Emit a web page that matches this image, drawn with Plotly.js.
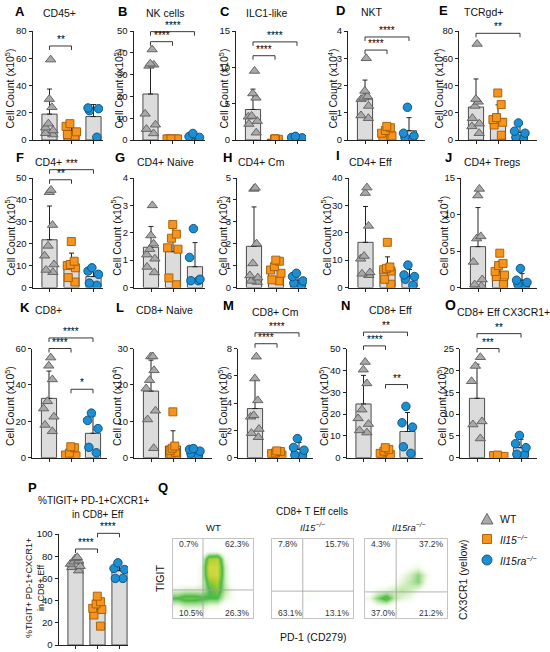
<!DOCTYPE html>
<html><head><meta charset="utf-8">
<script src="https://cdn.plot.ly/plotly-3.0.1.min.js"></script>
<style>html,body{margin:0;padding:0;background:#fff}#chart{width:550px;height:652px}</style>
</head><body><div id="chart"></div>
<script>
// ================= DATA =================
const groups = ['WT', 'Il15-/-', 'Il15ra-/-'];
// A CD45+
const cd45_wt = [59, 30, 24, 12, 9, 7, 5, 4];
const cd45_il15 = [12, 10, 6, 4, 3];
const cd45_il15ra = [23.5, 23, 21.5, 2];
const cd45_mean = [19, 6.8, 17.2];
const cd45_sd = [18.4, 6.7, 8.8];
// B NK cells
const nk_wt = [41.5, 35, 34.5, 34, 12, 7, 5, 3];
const nk_il15 = [0.5, 0.5, 0.5, 0.5, 0.5];
const nk_il15ra = [3, 1.6, 1.2, 0.9, 0.5];
const nk_mean = [21.1, 0.5, 1.5];
const nk_sd = [12.9, 0.2, 1.2];
// C ILC1-like
const ilc1_wt = [9.5, 6.4, 5.8, 3.3, 3.2, 2.6, 2.2, 1.0];
const ilc1_il15 = [0.15, 0.1, 0.1, 0.1, 0.1, 0.1, 0.1];
const ilc1_il15ra = [0.5, 0.35, 0.3, 0.2, 0.1];
const ilc1_mean = [4.2, 0.1, 0.3];
const ilc1_sd = [2.8, 0.05, 0.15];
// D NKT
const nkt_wt = [3.0, 1.8, 1.6, 1.55, 1.5, 1.25, 0.9, 0.8];
const nkt_il15 = [0.5, 0.45, 0.35, 0.25, 0.15, 0.1, 0.05];
const nkt_il15ra = [1.2, 0.25, 0.15, 0.1, 0.05];
const nkt_mean = [1.5, 0.3, 0.34];
const nkt_sd = [0.7, 0.2, 0.48];
// E TCRgd+
const gd_wt = [70.5, 30, 28, 25, 16, 12, 10, 5];
const gd_il15 = [34.5, 26, 16.5, 15, 13, 11, 3.5];
const gd_il15ra = [12.5, 6.5, 5, 2, 1.5];
const gd_mean = [24.2, 15.8, 5.6];
const gd_sd = [20.6, 10, 6];
// F CD4+
const cd4_wt = [44.5, 43.5, 28.5, 19, 14.5, 10.5, 8, 7];
const cd4_il15 = [21, 12, 10.5, 10, 9, 4.5, 2.5];
const cd4_il15ra = [9, 7.5, 6, 2, 1];
const cd4_mean = [21.8, 10.3, 5];
const cd4_sd = [15.4, 5.4, 3.8];
// G CD4+ Naive
const cd4n_wt = [3.0, 1.9, 1.6, 1.4, 1.2, 1.05, 0.75, 0.55];
const cd4n_il15 = [2.3, 1.95, 1.8, 1.45, 1.4, 0.35, 0.1];
const cd4n_il15ra = [2.15, 1.1, 0.3, 0.25, 0.25];
const cd4n_mean = [1.47, 1.31, 0.76];
const cd4n_sd = [0.76, 0.86, 0.88];
// H CD4+ Cm
const cd4cm_wt = [4.55, 4.5, 2.0, 1.1, 0.55, 0.45, 0.3, 0.25];
const cd4cm_il15 = [1.25, 1.2, 0.95, 0.8, 0.65, 0.35, 0.3];
const cd4cm_il15ra = [0.65, 0.5, 0.3, 0.2, 0.1];
const cd4cm_mean = [1.88, 0.79, 0.33];
const cd4cm_sd = [1.8, 0.4, 0.3];
// I CD4+ Eff
const cd4e_wt = [36.5, 34.5, 22.5, 11.5, 10.5, 5.5, 5, 4.5];
const cd4e_il15 = [16.5, 7.5, 7, 6.5, 6, 3, 1.2];
const cd4e_il15ra = [8.2, 4.6, 4, 3, 0.8];
const cd4e_mean = [16.5, 6.7, 4];
const cd4e_sd = [13.1, 4.5, 2.6];
// J CD4+ Tregs
const treg_wt = [13.5, 12.6, 7.0, 6.7, 3.5, 1.1, 0.4, 0.2];
const treg_il15 = [4.7, 3.3, 3.0, 2.2, 1.7, 1.5, 0.4];
const treg_il15ra = [2.6, 1.0, 0.7, 0.5, 0.3];
const treg_mean = [5.6, 2.2, 1.0];
const treg_sd = [5.35, 1.4, 0.9];
// K CD8+
const cd8_wt = [55, 50.5, 43, 31, 27, 22.5, 18, 14.5];
const cd8_il15 = [6, 5.5, 2.5, 1.5, 1, 0.8, 0.5];
const cd8_il15ra = [24.5, 20.5, 16, 5.7, 2.7];
const cd8_mean = [32.6, 2.2, 13.4];
const cd8_sd = [15, 2.3, 9.5];
// L CD8+ Naive
const cd8n_wt = [27.8, 27.8, 24, 21.3, 19, 12.9, 10.5, 2.6];
const cd8n_il15 = [12.6, 3.2, 2.6, 2.0, 1.5, 1.0, 0.5];
const cd8n_il15ra = [2.5, 2.3, 1.8, 1.2, 0.8];
const cd8n_mean = [18.3, 3.2, 1.7];
const cd8n_sd = [8.5, 4.2, 0.7];
// M CD8+ Cm
const cd8cm_wt = [7.4, 5.8, 4.2, 3.1, 3.0, 2.1, 1.8, 1.5];
const cd8cm_il15 = [0.5, 0.45, 0.35, 0.3, 0.2, 0.15, 0.1];
const cd8cm_il15ra = [1.4, 0.75, 0.55, 0.2, 0.15];
const cd8cm_mean = [3.6, 0.28, 0.61];
const cd8cm_sd = [2.1, 0.15, 0.5];
// N CD8+ Eff
const cd8e_wt = [43.8, 40.3, 34, 22, 18, 15.4, 12.5, 11.5];
const cd8e_il15 = [4.6, 3.8, 3.0, 2.0, 1.5, 1.0, 0.6];
const cd8e_il15ra = [23.5, 16, 14, 5, 2];
const cd8e_mean = [24.6, 2.3, 12];
const cd8e_sd = [13.1, 1.5, 8.7];
// O CD8+ Eff CX3CR1+
const cx3_wt = [23, 21, 17.5, 8.3, 7.6, 4.4];
const cx3_il15 = [0.6, 0.5, 0.3, 0.2, 0.1];
const cx3_il15ra = [5.1, 3.2, 2.3, 0.8, 0.7];
const cx3_mean = [13.6, 0.3, 2.3];
const cx3_sd = [7.8, 0.2, 1.9];
// P %TIGIT+PD-1+CXCR1+ in CD8+ Eff
const tig_wt = [79, 78, 76, 75, 73, 71, 70, 67];
const tig_il15 = [44, 39, 37, 33, 32, 27, 17];
const tig_il15ra = [74, 69, 68, 60, 60];
const tig_mean = [74, 32, 67];
const tig_sd = [4, 8.5, 6];
// Q flow plots: coarse density grids (rows bottom->top, 10x10), 0 empty .. 4 yellow(CX3CR1 high)
const flowWT = [
 [0,0,0,0,0,0,0,0,0,0],
 [0.6,1,1,1,0.6,0.6,0,0,0,0],
 [2,2.4,2.4,2.2,2,2,0.8,0.4,0,0],
 [0.8,1,1,1,2,2.6,1.2,0.4,0,0],
 [0,0,0,0.6,2.6,3,1,0,0,0],
 [0,0,0,0.6,3.4,3.6,1,0,0,0],
 [0,0,0,0.6,3.6,3.6,1,0,0,0],
 [0,0,0,0.4,3.0,3.2,0.6,0,0,0],
 [0,0,0,0,0.4,0.4,0,0,0,0],
 [0,0,0,0,0,0,0,0,0,0]];
const flowIl15 = [
 [0,0,0,0,0,0,0,0,0,0],
 [0,0,0,0,0,0,0,0,0,0],
 [0,0,0,0.3,0.4,0.3,0,0,0,0],
 [0,0,0,0,0.3,0.3,0,0,0,0],
 [0,0,0,0,0,0,0,0,0,0],
 [0,0,0,0,0,0,0,0,0,0],
 [0,0,0,0,0,0,0,0,0,0],
 [0,0,0,0,0,0,0,0,0,0],
 [0,0,0,0,0,0,0,0,0,0],
 [0,0,0,0,0,0,0,0,0,0]];
const flowIl15ra = [
 [0,0,0,0,0,0,0,0,0,0],
 [0,0.4,0.4,0,0,0,0,0,0,0],
 [0.6,1.6,2.4,1.2,0.8,0.6,0,0,0,0],
 [0,0.6,0.8,1,1.2,1,0.6,0,0,0],
 [0,0,0,0.4,0.8,1.2,1.6,0.4,0,0],
 [0,0,0,0,0.6,1,1.6,0.6,0,0],
 [0,0,0,0,0,0.4,0.6,0,0,0],
 [0,0,0,0,0,0,0,0,0,0],
 [0,0,0,0,0,0,0,0,0,0],
 [0,0,0,0,0,0,0,0,0,0]];
const flowCells = [0.05,0.15,0.25,0.35,0.45,0.55,0.65,0.75,0.85,0.95];
const pctWT = ['0.7%', '62.3%', '10.5%', '26.3%'];
const pctIl15 = ['7.8%', '15.7%', '63.1%', '13.1%'];
const pctIl15ra = ['4.3%', '37.2%', '37.0%', '21.2%'];

// ================= LAYOUT CONFIG =================
const W = 550, H = 652;
const FONT = 'Liberation Sans, Arial, Helvetica, sans-serif';
const fx = x => x / W, fy = y => 1 - y / H;
const R1 = {top: 31, bot: 140}, R2 = {top: 178, bot: 287.5}, R3 = {top: 348.5, bot: 457.7};

const panels = [
 {L:'A', t:'CD45+', d:[cd45_wt,cd45_il15,cd45_il15ra,cd45_mean,cd45_sd], ymax:80, dt:20, e:'5', c0:49.5, xR:103, r:R1, lp:[20,11], tp:[59,13], ax:9, sig:[[0,1,69,'**']]},
 {L:'B', t:'NK cells', d:[nk_wt,nk_il15,nk_il15ra,nk_mean,nk_sd], ymax:50, dt:10, e:'5', c0:150.5, xR:205, r:R1, lp:[122,11], tp:[165,13], ax:118, sig:[[0,1,45.1,'****'],[0,2,49.7,'****']]},
 {L:'C', t:'ILC1-like', d:[ilc1_wt,ilc1_il15,ilc1_il15ra,ilc1_mean,ilc1_sd], ymax:15, dt:5, e:'5', c0:253, xR:306, r:R1, lp:[225,11], tp:[267,13], ax:223, sig:[[0,1,11.6,'****'],[0,2,13.5,'****']]},
 {L:'D', t:'NKT', d:[nkt_wt,nkt_il15,nkt_il15ra,nkt_mean,nkt_sd], ymax:4, dt:1, e:'4', c0:365, xR:425, r:R1, lp:[340,10], tp:[372,12], ax:332, sig:[[0,1,3.3,'****'],[0,2,3.78,'****']]},
 {L:'E', t:'TCRgd+', d:[gd_wt,gd_il15,gd_il15ra,gd_mean,gd_sd], ymax:80, dt:20, e:'4', c0:476, xR:537, r:R1, lp:[443,10], tp:[483,12], ax:438, sig:[[0,2,78.3,'**']]},
 {L:'F', t:'CD4+', d:[cd4_wt,cd4_il15,cd4_il15ra,cd4_mean,cd4_sd], ymax:50, dt:10, e:'5', c0:49.5, xR:103, r:R2, lp:[20,157], tp:[48,162], ax:10, sig:[[0,1,49.2,'**'],[0,2,53.8,'***']]},
 {L:'G', t:'CD4+ Naive', d:[cd4n_wt,cd4n_il15,cd4n_il15ra,cd4n_mean,cd4n_sd], ymax:4, dt:1, e:'5', c0:151, xR:205, r:R2, lp:[120,157], tp:[165,162], ax:116, sig:[]},
 {L:'H', t:'CD4+ Cm', d:[cd4cm_wt,cd4cm_il15,cd4cm_il15ra,cd4cm_mean,cd4cm_sd], ymax:5, dt:1, e:'5', c0:254, xR:307, r:R2, lp:[227,157], tp:[261,162], ax:222, sig:[]},
 {L:'I', t:'CD4+ Eff', d:[cd4e_wt,cd4e_il15,cd4e_il15ra,cd4e_mean,cd4e_sd], ymax:40, dt:10, e:'5', c0:365.5, xR:420, r:R2, lp:[338,156], tp:[370,162], ax:326, sig:[]},
 {L:'J', t:'CD4+ Tregs', d:[treg_wt,treg_il15,treg_il15ra,treg_mean,treg_sd], ymax:15, dt:5, e:'4', c0:478, xR:537, r:R2, lp:[448,157], tp:[492,162], ax:443, sig:[]},
 {L:'K', t:'CD8+', d:[cd8_wt,cd8_il15,cd8_il15ra,cd8_mean,cd8_sd], ymax:60, dt:20, e:'5', c0:49, xR:107, r:R3, lp:[25,307], tp:[48,310], ax:9, sig:[[0,1,60,'****'],[0,2,65.8,'****'],[1,2,37.6,'*']]},
 {L:'L', t:'CD8+ Naive', d:[cd8n_wt,cd8n_il15,cd8n_il15ra,cd8n_mean,cd8n_sd], ymax:30, dt:10, e:'4', c0:151, xR:212, r:R3, lp:[120,307], tp:[164,310], ax:116, sig:[]},
 {L:'M', t:'CD8+ Cm', d:[cd8cm_wt,cd8cm_il15,cd8cm_il15ra,cd8cm_mean,cd8cm_sd], ymax:8, dt:2, e:'5', c0:255, xR:313, r:R3, lp:[228,305], tp:[275,312], ax:222, sig:[[0,1,8.35,'****'],[0,2,9.15,'****']]},
 {L:'N', t:'CD8+ Eff', d:[cd8e_wt,cd8e_il15,cd8e_il15ra,cd8e_mean,cd8e_sd], ymax:50, dt:10, e:'5', c0:363.5, xR:423, r:R3, lp:[345,305], tp:[390,310], ax:323, sig:[[0,1,51.2,'****'],[0,2,57.5,'**'],[1,2,33.5,'**']]},
 {L:'O', t:'CD8+ Eff CX3CR1+', d:[cx3_wt,cx3_il15,cx3_il15ra,cx3_mean,cx3_sd], ymax:25, dt:5, e:'5', c0:477, xR:537, r:R3, lp:[450,305], tp:[503,312], ax:441, sig:[[0,1,25,'***'],[0,2,28.4,'**']], lsize:14},
 {L:'P', t:null, d:[tig_wt,tig_il15,tig_il15ra,tig_mean,tig_sd], ymax:100, dt:20, e:null, c0:75.5, xR:128, r:{top:534, bot:645}, lp:[32,487], tp:null, ax:35, sig:[[0,1,86.5,'****'],[1,2,100.6,'****']]}
];

const STY = [
 {symbol:'triangle-up', size:9, color:'#a9a9a9', line:{color:'#5a5a5a', width:0.9}},
 {symbol:'square', size:8, color:'#f7941d', line:{color:'#a35a00', width:0.9}},
 {symbol:'circle', size:8.5, color:'#1c8fd2', line:{color:'#0b4c7c', width:0.9}}
];

const data = [], shapes = [], annotations = [];
const layout = {
  width: W, height: H, margin: {l:0, r:0, t:0, b:0},
  paper_bgcolor: '#fff', plot_bgcolor: 'rgba(0,0,0,0)', showlegend: false,
  font: {family: FONT, size: 10, color: '#111'}, boxmode: 'overlay'
};
const ids = n => { const s = n === 1 ? '' : String(n); return {x:'x'+s, y:'y'+s, xn:'xaxis'+s, yn:'yaxis'+s}; };
const ann = (o) => annotations.push(Object.assign({showarrow:false, xref:'paper', yref:'paper', xanchor:'center', yanchor:'middle',
  font:{family:FONT, size:10, color:'#111'}}, o));

const S = 22; // px between group centres
panels.forEach((p, i) => {
  const id = ids(i + 1);
  const xL = p.c0 - 17;
  const r0 = (xL - p.c0) / S, r1 = (p.xR - p.c0) / S;
  const hpx = p.r.bot - p.r.top;
  layout[id.xn] = {domain:[fx(xL), fx(p.xR)], range:[r0, r1], anchor:id.y, showline:true, linecolor:'#222', linewidth:1,
    ticks:'outside', ticklen:3, tickcolor:'#222', tickwidth:1, tickvals:[0,1,2], showticklabels:false, showgrid:false, zeroline:false, fixedrange:true};
  layout[id.yn] = {domain:[fy(p.r.bot), fy(p.r.top)], range:[0, p.ymax], anchor:id.x, showline:true, linecolor:'#222', linewidth:1,
    ticks:'outside', ticklen:3, tickcolor:'#222', tickwidth:1, tick0:0, dtick:p.dt, tickfont:{size:9.5, family:FONT, color:'#111'},
    showgrid:false, zeroline:false, fixedrange:true};
  const [wt, a, b, mean, sd] = p.d;
  data.push({type:'bar', x:[0,1,2], y:mean, width:0.69, xaxis:id.x, yaxis:id.y, cliponaxis:false,
    marker:{color:'#dcdcdc', line:{color:'#3a3a3a', width:0.9}},
    error_y:{type:'data', array:sd, arrayminus:[0,0,0], symmetric:false, color:'#222', thickness:1, width:2.5},
    hoverinfo:'skip'});
  [wt, a, b].forEach((vals, g) => {
    data.push({type:'box', y:vals, x0:g, width:0.69, xaxis:id.x, yaxis:id.y, boxpoints:'all', jitter:0.85, pointpos:0,
      fillcolor:'rgba(0,0,0,0)', line:{width:0, color:'rgba(0,0,0,0)'}, whiskerwidth:0,
      marker:STY[g], hoverinfo:'skip', name:groups[g]});
  });
  // significance brackets
  const xf = v => (v - r0) / (r1 - r0);
  const drop = 4 / hpx;
  p.sig.forEach(([g1, g2, h, txt]) => {
    const yv = h / p.ymax;
    shapes.push({type:'path', xref:id.x+' domain', yref:id.y+' domain',
      path:`M ${xf(g1)},${yv-drop} L ${xf(g1)},${yv} L ${xf(g2)},${yv} L ${xf(g2)},${yv-drop}`,
      line:{color:'#222', width:0.9}});
    annotations.push({showarrow:false, xref:id.x+' domain', yref:id.y+' domain', x:(xf(g1)+xf(g2))/2, y:yv,
      yanchor:'bottom', xanchor:'center', yshift:-1, text:txt, font:{family:FONT, size:10, color:'#000'}});
  });
  // panel letter + title
  ann({x:fx(p.lp[0]), y:fy(p.lp[1]), text:'<b>'+p.L+'</b>', font:{family:FONT, size:p.lsize||13, color:'#000'}});
  if (p.t) ann({x:fx(p.tp[0]), y:fy(p.tp[1]), text:p.t, font:{family:FONT, size:10.5, color:'#111'}});
  // y title
  const ymid = (p.r.top + p.r.bot) / 2 + 3;
  if (p.e) ann({x:fx(p.ax), y:fy(ymid), textangle:-90, text:'Cell Count (x10<sup>'+p.e+'</sup>)', font:{family:FONT, size:10.5, color:'#111'}});
  else ann({x:fx(p.ax), y:fy(588), textangle:-90, text:'%TIGIT+ PD-1+CXCR1+<br>in CD8+ Eff', font:{family:FONT, size:9, color:'#111'}});
});

// P title
ann({x:fx(94), y:fy(500), text:'%TIGIT+ PD-1+CXCR1+', font:{family:FONT, size:10, color:'#111'}});
ann({x:fx(97), y:fy(514), text:'in CD8+ Eff', font:{family:FONT, size:10, color:'#111'}});

// ================= Q flow plots =================
const flows = [
 {z:flowWT, xL:173, xR:253, vx:0.375, hy:0.355, lab:'WT', lx:213, pct:pctWT},
 {z:flowIl15, xL:272, xR:353, vx:0.38, hy:0.34, lab:'<i>Il15<sup>−/−</sup></i>', lx:312, pct:pctIl15},
 {z:flowIl15ra, xL:365, xR:447, vx:0.38, hy:0.33, lab:'<i>Il15ra<sup>−/−</sup></i>', lx:408, pct:pctIl15ra}
];
const fTop = 539, fBot = 618;
flows.forEach((f, k) => {
  const id = ids(panels.length + 1 + k);
  layout[id.xn] = {domain:[fx(f.xL), fx(f.xR)], range:[0,1], anchor:id.y, showline:true, mirror:true, linecolor:'#b5b5b5', linewidth:0.8,
    ticks:'', showticklabels:false, showgrid:false, zeroline:false, fixedrange:true};
  layout[id.yn] = {domain:[fy(fBot), fy(fTop)], range:[0,1], anchor:id.x, showline:true, mirror:true, linecolor:'#b5b5b5', linewidth:0.8,
    ticks:'', showticklabels:false, showgrid:false, zeroline:false, fixedrange:true};
  data.push({type:'heatmap', z:f.z, x:flowCells, y:flowCells, xaxis:id.x, yaxis:id.y, zmin:0, zmax:4, zsmooth:'best', showscale:false, hoverinfo:'skip',
    colorscale:[[0,'rgba(255,255,255,0)'],[0.1,'rgba(215,240,190,0.15)'],[0.25,'rgba(150,215,110,0.45)'],[0.5,'rgba(55,178,55,0.9)'],[0.75,'rgba(175,208,45,1)'],[1,'rgba(226,222,80,1)']]});
  shapes.push({type:'line', xref:id.x+' domain', yref:id.y+' domain', x0:f.vx, x1:f.vx, y0:0, y1:1, line:{color:'#a0a0a0', width:0.8}});
  shapes.push({type:'line', xref:id.x+' domain', yref:id.y+' domain', x0:0, x1:1, y0:f.hy, y1:f.hy, line:{color:'#a0a0a0', width:0.8}});
  const pf = {family:FONT, size:8.5, color:'#333'};
  ann({x:fx(f.xL+4), y:fy(544), xanchor:'left', text:f.pct[0], font:pf});
  ann({x:fx(f.xR-1.5), y:fy(544), xanchor:'right', text:f.pct[1], font:pf});
  ann({x:fx(f.xL+4), y:fy(613), xanchor:'left', text:f.pct[2], font:pf});
  ann({x:fx(f.xR-1.5), y:fy(613), xanchor:'right', text:f.pct[3], font:pf});
  ann({x:fx(f.lx), y:fy(527), text:f.lab, font:{family:FONT, size:9.5, color:'#111'}});
});
ann({x:fx(163), y:fy(487), text:'<b>Q</b>', font:{family:FONT, size:13, color:'#000'}});
ann({x:fx(312), y:fy(511), text:'CD8+ T Eff cells', font:{family:FONT, size:10, color:'#111'}});
ann({x:fx(160), y:fy(579), textangle:-90, text:'TIGIT', font:{family:FONT, size:10.5, color:'#111'}});
ann({x:fx(313), y:fy(637), text:'PD-1 (CD279)', font:{family:FONT, size:10.5, color:'#111'}});
ann({x:fx(463), y:fy(580), textangle:-90, text:'CX3CR1 (yellow)', font:{family:FONT, size:10.5, color:'#111'}});

// ================= legend (glyphs + labels) =================
const lgX = 487;
shapes.push({type:'path', xref:'paper', yref:'paper', path:`M ${fx(lgX-6)},${fy(524)} L ${fx(lgX)},${fy(513.5)} L ${fx(lgX+6)},${fy(524)} Z`,
  fillcolor:STY[0].color, line:{color:STY[0].line.color, width:0.9}});
shapes.push({type:'rect', xref:'paper', yref:'paper', x0:fx(lgX-4.5), x1:fx(lgX+4.5), y0:fy(543.5), y1:fy(534.5),
  fillcolor:STY[1].color, line:{color:STY[1].line.color, width:0.9}});
shapes.push({type:'circle', xref:'paper', yref:'paper', x0:fx(lgX-5), x1:fx(lgX+5), y0:fy(565), y1:fy(555),
  fillcolor:STY[2].color, line:{color:STY[2].line.color, width:0.9}});
const lgF = {family:FONT, size:10.5, color:'#111'};
ann({x:fx(498), y:fy(519), xanchor:'left', text:'WT', font:lgF});
ann({x:fx(498), y:fy(539), xanchor:'left', text:'<i>Il15<sup>−/−</sup></i>', font:lgF});
ann({x:fx(498), y:fy(560), xanchor:'left', text:'<i>Il15ra<sup>−/−</sup></i>', font:lgF});

layout.shapes = shapes;
layout.annotations = annotations;
Plotly.newPlot('chart', data, layout, {staticPlot:true, displayModeBar:false});
</script>
</body></html>
